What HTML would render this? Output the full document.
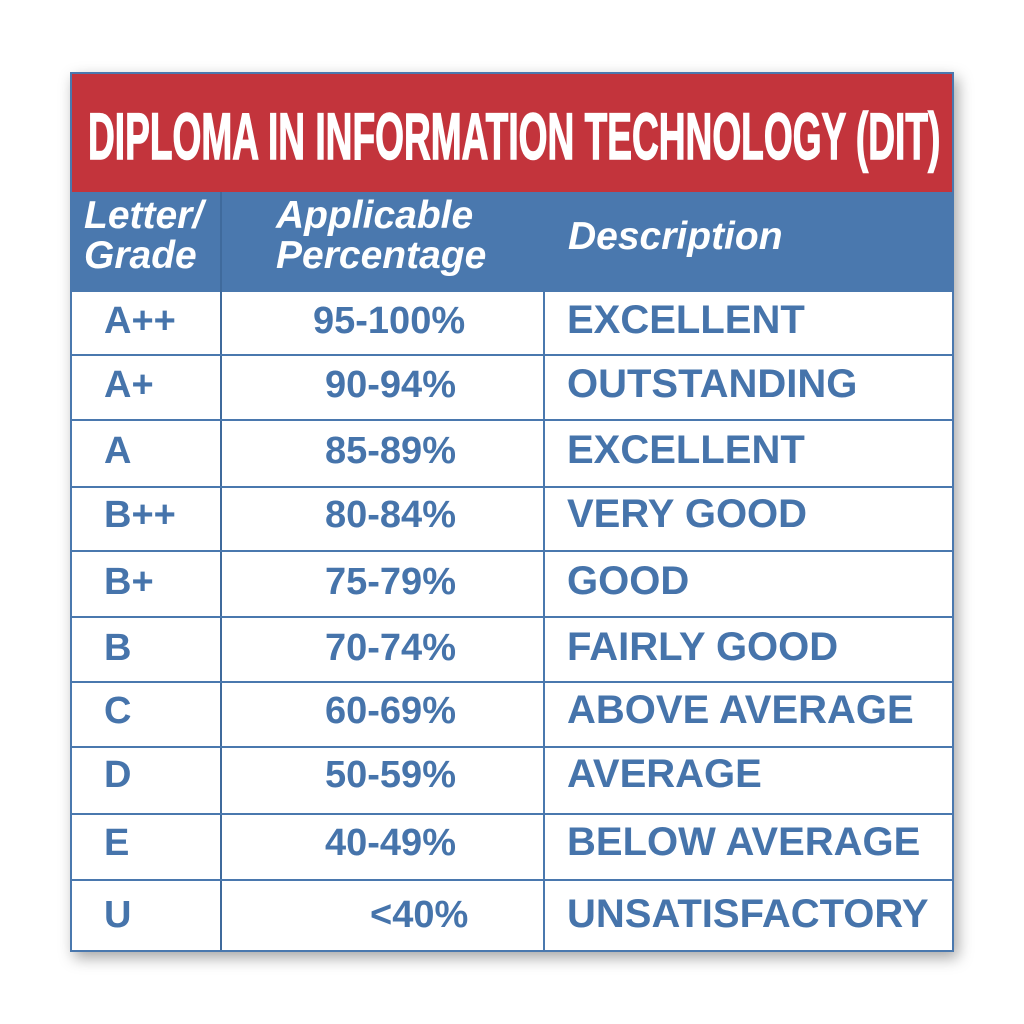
<!DOCTYPE html>
<html><head><meta charset="utf-8"><style>
body{margin:0;width:1024px;height:1024px;background:#fff;position:relative;overflow:hidden;font-family:"Liberation Sans",Arial,sans-serif}
.tbl{position:absolute;left:70px;top:72px;width:884px;height:880px;box-shadow:4px 6px 14px rgba(0,0,0,0.35);background:#fff;border:2px solid #4a78ae;box-sizing:border-box}
.red{position:absolute;left:0;top:0;width:880px;height:118px;background:#c3343c;overflow:hidden}
.title{position:absolute;left:16px;top:29px;font-weight:bold;font-size:66px;line-height:66px;color:#fff;white-space:nowrap;transform:scaleX(0.562);transform-origin:left top;-webkit-text-stroke:1.5px #fff}
.blue{position:absolute;left:0;top:118px;width:880px;height:100px;background:#4a78ae}
.h{position:absolute;color:#fff;font-weight:bold;font-style:italic;font-size:39px;line-height:40px;white-space:nowrap}
.vl{position:absolute;top:118px;width:2px;background:#3f6a9c}
.hl{position:absolute;left:0;width:880px;height:2px;background:#4a78ae}
.c{position:absolute;color:#4674ab;font-weight:bold;font-size:38px;line-height:38px;white-space:nowrap}
.d{font-size:40px}
</style></head><body>
<div class="tbl">
<div class="red"><div class="title">DIPLOMA IN INFORMATION TECHNOLOGY (DIT)</div></div>
<div class="blue"></div>
<div class="h" style="left:12px;top:122px">Letter/<br>Grade</div>
<div class="h" style="left:204px;top:122px">Applicable<br>Percentage</div>
<div class="h" style="left:496px;top:143px">Description</div>
<div class="vl" style="left:148px;height:758px"></div>
<div class="vl" style="left:471px;height:758px;background:#4a78ae"></div>
<div class="hl" style="top:280px"></div>
<div class="hl" style="top:345px"></div>
<div class="hl" style="top:412px"></div>
<div class="hl" style="top:476px"></div>
<div class="hl" style="top:542px"></div>
<div class="hl" style="top:607px"></div>
<div class="hl" style="top:672px"></div>
<div class="hl" style="top:739px"></div>
<div class="hl" style="top:805px"></div>
</div>
<div style="position:absolute;left:0;top:0">
<div class="c" style="left:104px;top:302px">A++</div><div class="c" style="left:313px;top:302px">95-100%</div><div class="c d" style="left:567px;top:301px">EXCELLENT</div>
<div class="c" style="left:104px;top:366px">A+</div><div class="c" style="left:325px;top:366px">90-94%</div><div class="c d" style="left:567px;top:365px">OUTSTANDING</div>
<div class="c" style="left:104px;top:432px">A</div><div class="c" style="left:325px;top:432px">85-89%</div><div class="c d" style="left:567px;top:431px">EXCELLENT</div>
<div class="c" style="left:104px;top:496px">B++</div><div class="c" style="left:325px;top:496px">80-84%</div><div class="c d" style="left:567px;top:495px">VERY GOOD</div>
<div class="c" style="left:104px;top:563px">B+</div><div class="c" style="left:325px;top:563px">75-79%</div><div class="c d" style="left:567px;top:562px">GOOD</div>
<div class="c" style="left:104px;top:629px">B</div><div class="c" style="left:325px;top:629px">70-74%</div><div class="c d" style="left:567px;top:628px">FAIRLY GOOD</div>
<div class="c" style="left:104px;top:692px">C</div><div class="c" style="left:325px;top:692px">60-69%</div><div class="c d" style="left:567px;top:691px">ABOVE AVERAGE</div>
<div class="c" style="left:104px;top:756px">D</div><div class="c" style="left:325px;top:756px">50-59%</div><div class="c d" style="left:567px;top:755px">AVERAGE</div>
<div class="c" style="left:104px;top:824px">E</div><div class="c" style="left:325px;top:824px">40-49%</div><div class="c d" style="left:567px;top:823px">BELOW AVERAGE</div>
<div class="c" style="left:104px;top:896px">U</div><div class="c" style="left:370px;top:896px">&lt;40%</div><div class="c d" style="left:567px;top:895px">UNSATISFACTORY</div>
</div>
</body></html>
